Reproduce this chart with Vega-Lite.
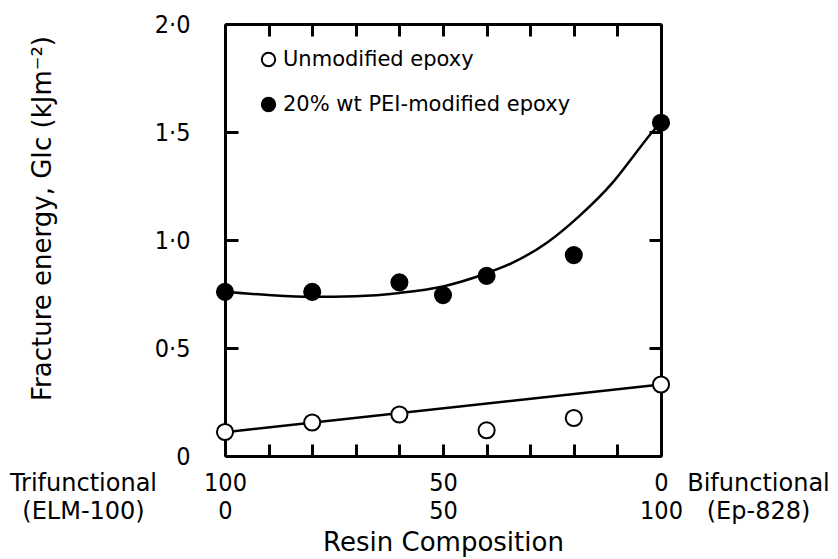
{
  "$schema": "https://vega.github.io/schema/vega-lite/v6.json",
  "width": 436,
  "height": 432,
  "autosize": "none",
  "padding": {"left": 225, "top": 24, "right": 177, "bottom": 103},
  "background": "white",
  "config": {
    "view": {"stroke": null},
    "font": "DejaVu Sans",
    "axis": {
      "domainColor": "black",
      "tickColor": "black",
      "labelColor": "black",
      "titleColor": "black",
      "domainWidth": 3,
      "tickWidth": 3,
      "grid": false,
      "labelFont": "'DejaVu Sans Condensed', 'Roboto Condensed', Roboto, sans-serif",
      "labelFontSize": 25,
      "titleFont": "DejaVu Sans",
      "titleFontWeight": "normal"
    }
  },
  "datasets": {
    "points": [
      {"comp": 0, "G": 0.111, "series": "Unmodified epoxy"},
      {"comp": 20, "G": 0.155, "series": "Unmodified epoxy"},
      {"comp": 40, "G": 0.192, "series": "Unmodified epoxy"},
      {"comp": 60, "G": 0.119, "series": "Unmodified epoxy"},
      {"comp": 80, "G": 0.176, "series": "Unmodified epoxy"},
      {"comp": 100, "G": 0.331, "series": "Unmodified epoxy"},
      {"comp": 0, "G": 0.76, "series": "20% wt PEI-modified epoxy"},
      {"comp": 20, "G": 0.76, "series": "20% wt PEI-modified epoxy"},
      {"comp": 40, "G": 0.804, "series": "20% wt PEI-modified epoxy"},
      {"comp": 50, "G": 0.745, "series": "20% wt PEI-modified epoxy"},
      {"comp": 60, "G": 0.834, "series": "20% wt PEI-modified epoxy"},
      {"comp": 80, "G": 0.93, "series": "20% wt PEI-modified epoxy"},
      {"comp": 100, "G": 1.543, "series": "20% wt PEI-modified epoxy"}
    ],
    "curves": [
      {"comp": 0, "G": 0.11, "series": "unmodified fit"},
      {"comp": 100, "G": 0.331, "series": "unmodified fit"},
      {"comp": 0, "G": 0.76, "series": "PEI fit"},
      {"comp": 10, "G": 0.745, "series": "PEI fit"},
      {"comp": 20, "G": 0.737, "series": "PEI fit"},
      {"comp": 30, "G": 0.74, "series": "PEI fit"},
      {"comp": 40, "G": 0.755, "series": "PEI fit"},
      {"comp": 50, "G": 0.785, "series": "PEI fit"},
      {"comp": 60, "G": 0.846, "series": "PEI fit"},
      {"comp": 66, "G": 0.895, "series": "PEI fit"},
      {"comp": 74, "G": 0.99, "series": "PEI fit"},
      {"comp": 81, "G": 1.106, "series": "PEI fit"},
      {"comp": 89, "G": 1.268, "series": "PEI fit"},
      {"comp": 93, "G": 1.37, "series": "PEI fit"},
      {"comp": 98, "G": 1.5, "series": "PEI fit"},
      {"comp": 100, "G": 1.545, "series": "PEI fit"}
    ]
  },
  "layer": [
    {
      "data": {"name": "curves"},
      "mark": {"type": "line", "interpolate": "monotone", "stroke": "black", "strokeWidth": 2.5},
      "encoding": {
        "x": {
          "field": "comp", "type": "quantitative",
          "scale": {"domain": [0, 100], "nice": false, "zero": false},
          "axis": {
            "orient": "bottom",
            "values": [0, 10, 20, 30, 40, 50, 60, 70, 80, 90, 100],
            "tickSize": -12,
            "labelExpr": "datum.value == 0 ? ['100', '0'] : datum.value == 50 ? ['50', '50'] : datum.value == 100 ? ['0', '100'] : ''",
            "labelLineHeight": 28,
            "labelPadding": 26,
            "labelAlign": "center",
            "labelBaseline": "top",
            "labelFlush": false,
            "labelOverlap": false,
            "title": "Resin Composition",
            "titleFontSize": 26,
            "titleX": 218,
            "titleY": 86,
            "titleBaseline": "middle",
            "titleAlign": "center"
          }
        },
        "y": {
          "field": "G", "type": "quantitative",
          "scale": {"domain": [0, 2], "nice": false},
          "axis": {
            "orient": "left",
            "values": [0, 0.5, 1, 1.5, 2],
            "tickSize": -13,
            "labelExpr": "datum.value == 0 ? '0' : replace(format(datum.value, '.1f'), '.', '·')",
            "labelPadding": 48,
            "labelOverlap": false,
            "labelFlush": false,
            "title": "Fracture energy, GIc  (kJm⁻²)",
            "titleFontSize": 26,
            "titleX": -183,
            "titleY": 194,
            "titleAngle": -90,
            "titleBaseline": "middle",
            "titleAlign": "center"
          }
        },
        "detail": {"field": "series", "type": "nominal"}
      }
    },
    {
      "data": {"name": "points"},
      "mark": {"type": "point", "filled": true, "stroke": "black", "strokeWidth": 2, "size": 260, "opacity": 1},
      "encoding": {
        "x": {"field": "comp", "type": "quantitative", "axis": null},
        "y": {"field": "G", "type": "quantitative", "axis": null},
        "fill": {
          "field": "series", "type": "nominal",
          "scale": {"domain": ["Unmodified epoxy", "20% wt PEI-modified epoxy"], "range": ["white", "black"]},
          "legend": {
            "title": null,
            "orient": "none",
            "legendX": 33,
            "legendY": 25,
            "padding": 0,
            "symbolType": "circle",
            "symbolSize": 180,
            "symbolStrokeColor": "black",
            "symbolStrokeWidth": 2,
            "labelFont": "DejaVu Sans",
            "labelFontSize": 21,
            "labelColor": "black",
            "labelOffset": 4,
            "rowPadding": 22,
            "labelLimit": 400
          }
        }
      }
    },
    {
      "data": {"name": "points"},
      "mark": {"type": "point", "opacity": 0},
      "encoding": {
        "x": {
          "field": "comp", "type": "quantitative",
          "axis": {"orient": "top", "values": [0, 10, 20, 30, 40, 50, 60, 70, 80, 90, 100], "tickSize": -12, "labels": false, "title": null}
        },
        "y": {
          "field": "G", "type": "quantitative",
          "axis": {"orient": "right", "values": [0, 0.5, 1, 1.5, 2], "tickSize": -12, "labels": false, "title": null}
        }
      }
    },
    {
      "data": {"name": "points"},
      "mark": {"type": "point", "opacity": 0},
      "encoding": {
        "x": {
          "field": "comp", "type": "quantitative",
          "axis": {
            "orient": "bottom",
            "values": [0, 100],
            "domain": false,
            "ticks": false,
            "labelExpr": "datum.value == 0 ? ['Trifunctional', '(ELM-100)'] : ['Bifunctional', '(Ep-828)']",
            "labelFont": "DejaVu Sans",
            "labelFontSize": 24,
            "labelAlign": "center",
            "labelBaseline": "top",
            "labelLineHeight": 28,
            "labelPadding": 15,
            "labelOffset": {"condition": {"test": "datum.value == 0", "value": -142}, "value": 97},
            "labelFlush": false,
            "labelOverlap": false,
            "labelBound": false,
            "title": null
          }
        },
        "y": {"field": "G", "type": "quantitative", "axis": null}
      }
    }
  ],
  "resolve": {"axis": {"x": "independent", "y": "independent"}}
}
